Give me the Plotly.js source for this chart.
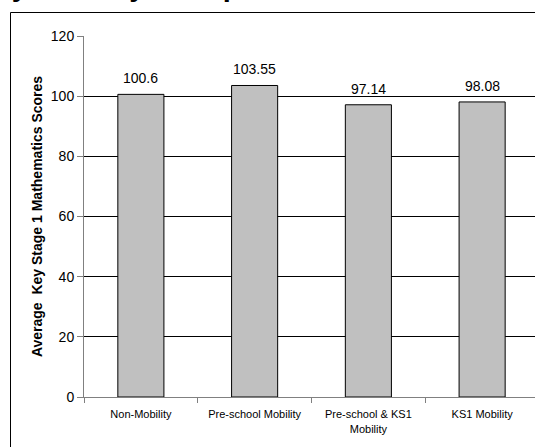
<!DOCTYPE html>
<html>
<head>
<meta charset="utf-8">
<script src="https://cdn.plot.ly/plotly-3.0.1.min.js"></script>
<style>
html,body{margin:0;padding:0;overflow:hidden;background:#fff;}
#chart{width:540px;height:447px;}
</style>
</head>
<body>
<div id="chart"></div>
<script>
const categories = ["Non-Mobility", "Pre-school Mobility", "Pre-school & KS1<br>Mobility", "KS1 Mobility"];
const scores = [100.6, 103.55, 97.14, 98.08];
const scoreLabels = ["100.6", "103.55", "97.14", "98.08"];
const yTicks = [0, 20, 40, 60, 80, 100, 120];

const W = 540, H = 447, L = 84, R = 1, T = 36, B = 50;
const pw = W - L - R, ph = H - T - B;
function px(x){ return (x - L) / pw; }
function py(y){ return 1 - (y - T) / ph; }
const FONT = 'Liberation Sans, Arial, sans-serif';

const trace = {
  type: 'bar',
  x: categories,
  y: scores,
  marker: {color: '#c0c0c0', line: {color: '#000', width: 1}},
  hoverinfo: 'none'
};

const valueAnnotations = categories.map((c, i) => ({
  xref: 'x', yref: 'y', x: c, y: scores[i],
  xanchor: 'center', yanchor: 'middle', yshift: 16,
  text: scoreLabels[i], showarrow: false,
  font: {family: FONT, size: 14, color: '#000'}
}));

const layout = {
  width: W, height: H,
  margin: {l: L, r: R, t: T, b: B, pad: 0},
  paper_bgcolor: '#fff', plot_bgcolor: '#fff',
  showlegend: false,
  bargap: 0.595,
  font: {family: FONT, color: '#000'},
  xaxis: {
    type: 'category',
    tickson: 'boundaries',
    ticks: 'outside', ticklen: 5, tickcolor: '#808080',
    showline: true, linecolor: '#808080', linewidth: 1,
    showgrid: false,
    tickfont: {size: 11, color: '#000'},
    ticklabelstandoff: 7,
    automargin: false
  },
  yaxis: {
    range: [0, 120],
    tickvals: yTicks,
    ticktext: yTicks.map(String),
    ticks: 'outside', ticklen: 6, tickcolor: '#808080',
    showline: true, linecolor: '#808080', linewidth: 1,
    showgrid: true, gridcolor: '#000', gridwidth: 1,
    zeroline: false,
    tickfont: {size: 14, color: '#000'},
    title: {text: '<b>Average  Key Stage 1 Mathematics Scores</b>', font: {size: 14, color: '#000'}, standoff: 4},
    automargin: false
  },
  shapes: [{
    type: 'rect', xref: 'paper', yref: 'paper', layer: 'below',
    x0: px(10.5), x1: px(600), y0: py(500), y1: py(12.5),
    line: {color: '#000', width: 1}, fillcolor: 'rgba(0,0,0,0)'
  }],
  annotations: [{
    xref: 'paper', yref: 'paper', x: px(-8), y: py(3), xanchor: 'left', yanchor: 'bottom',
    yshift: -1,
    text: '<b>by Mobility Group</b>', showarrow: false,
    font: {family: FONT, size: 29, color: '#000'}
  }].concat(valueAnnotations)
};

Plotly.newPlot('chart', [trace], layout, {displayModeBar: false, staticPlot: true});
</script>
</body>
</html>
